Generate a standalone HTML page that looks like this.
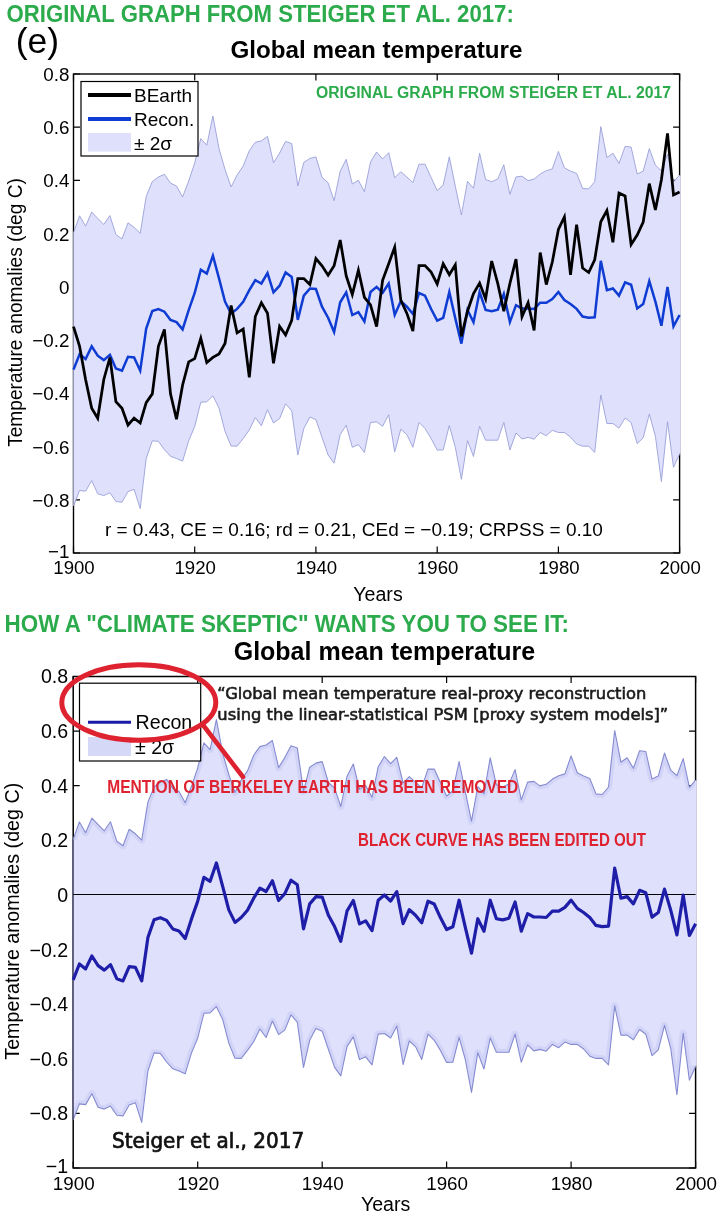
<!DOCTYPE html>
<html><head><meta charset="utf-8"><title>Steiger et al. 2017 graph comparison</title>
<style>html,body{margin:0;padding:0;background:#fff}svg{display:block}text{font-family:"Liberation Sans",sans-serif;fill:#000}.g{fill:#2bab4b;font-weight:bold}.r{fill:#df2230;font-weight:bold}.b{font-weight:bold}</style></head><body>
<svg width="725" height="1219" viewBox="0 0 725 1219">
<rect width="725" height="1219" fill="#fff"/>
<text class="g" x="6.6" y="21.6" font-size="23.2" textLength="507.2" lengthAdjust="spacingAndGlyphs">ORIGINAL GRAPH FROM STEIGER ET AL. 2017:</text>
<text x="15.8" y="52.5" font-size="35.5">(e)</text>
<text class="b" x="230.4" y="57.6" font-size="24.2" textLength="292" lengthAdjust="spacingAndGlyphs">Global mean temperature</text>
<rect x="73.5" y="74.0" width="606.1" height="479.0" fill="#fff" stroke="#000" stroke-width="1.4"/>
<path d="M73.5 74.0h6.5M679.6 74.0h-6.5" stroke="#000" stroke-width="1.2"/>
<path d="M73.5 127.2h6.5M679.6 127.2h-6.5" stroke="#000" stroke-width="1.2"/>
<path d="M73.5 180.4h6.5M679.6 180.4h-6.5" stroke="#000" stroke-width="1.2"/>
<path d="M73.5 233.7h6.5M679.6 233.7h-6.5" stroke="#000" stroke-width="1.2"/>
<path d="M73.5 286.9h6.5M679.6 286.9h-6.5" stroke="#000" stroke-width="1.2"/>
<path d="M73.5 340.1h6.5M679.6 340.1h-6.5" stroke="#000" stroke-width="1.2"/>
<path d="M73.5 393.3h6.5M679.6 393.3h-6.5" stroke="#000" stroke-width="1.2"/>
<path d="M73.5 446.6h6.5M679.6 446.6h-6.5" stroke="#000" stroke-width="1.2"/>
<path d="M73.5 499.8h6.5M679.6 499.8h-6.5" stroke="#000" stroke-width="1.2"/>
<path d="M73.5 553.0h6.5M679.6 553.0h-6.5" stroke="#000" stroke-width="1.2"/>
<path d="M73.5 553.0v-6.5M73.5 74.0v6.5" stroke="#000" stroke-width="1.2"/>
<path d="M194.7 553.0v-6.5M194.7 74.0v6.5" stroke="#000" stroke-width="1.2"/>
<path d="M315.9 553.0v-6.5M315.9 74.0v6.5" stroke="#000" stroke-width="1.2"/>
<path d="M437.2 553.0v-6.5M437.2 74.0v6.5" stroke="#000" stroke-width="1.2"/>
<path d="M558.4 553.0v-6.5M558.4 74.0v6.5" stroke="#000" stroke-width="1.2"/>
<path d="M679.6 553.0v-6.5M679.6 74.0v6.5" stroke="#000" stroke-width="1.2"/>
<polygon points="73.5,232.8 79.6,215.8 85.6,226.2 91.7,212.0 97.7,218.4 103.8,224.4 109.9,215.6 115.9,234.5 122.0,239.0 128.0,222.8 134.1,227.3 140.2,233.4 146.2,196.4 152.3,181.6 158.4,177.0 164.4,174.3 170.5,183.1 176.5,186.0 182.6,197.0 188.7,181.0 194.7,163.0 200.8,138.6 206.8,145.2 212.9,116.0 219.0,148.5 225.0,169.5 231.1,187.0 237.1,175.0 243.2,166.0 249.3,150.7 255.3,142.3 261.4,140.8 267.5,136.4 273.5,162.8 279.6,153.0 285.6,141.4 291.7,143.6 297.8,186.0 303.8,162.4 309.9,158.4 315.9,156.9 322.0,177.3 328.1,182.8 334.1,200.7 340.2,171.2 346.2,159.3 352.3,184.0 358.4,180.3 364.4,191.7 370.5,162.0 376.6,152.0 382.6,159.0 388.7,152.7 394.7,177.8 400.8,171.7 406.9,177.0 412.9,182.5 419.0,164.2 425.0,164.2 431.1,177.4 437.2,190.6 443.2,185.1 449.3,156.9 455.3,186.2 461.4,215.0 467.5,181.4 473.5,188.2 479.6,153.3 485.6,179.5 491.7,181.7 497.8,178.9 503.8,164.7 509.9,194.3 516.0,176.9 522.0,176.2 528.1,180.6 534.1,179.1 540.2,174.0 546.3,170.7 552.3,168.9 558.4,151.5 564.4,167.8 570.5,171.1 576.6,173.4 582.6,188.4 588.7,189.0 594.7,181.7 600.8,126.6 606.9,157.5 612.9,153.2 619.0,163.5 625.1,146.4 631.1,147.1 637.2,174.0 643.2,171.1 649.3,148.6 655.4,165.2 661.4,170.7 667.5,154.0 673.5,182.0 679.6,175.1 679.6,454.0 673.5,467.3 667.5,421.6 661.4,481.6 655.4,436.3 649.3,414.0 643.2,437.8 637.2,443.6 631.1,422.6 625.1,418.0 619.0,428.1 612.9,423.5 606.9,423.5 600.8,395.0 594.7,452.4 588.7,446.2 582.6,446.2 576.6,444.0 570.5,437.0 564.4,432.5 558.4,432.5 552.3,430.3 546.3,435.8 540.2,432.5 534.1,439.2 528.1,437.4 522.0,438.9 516.0,433.0 509.9,450.0 503.8,422.5 497.8,440.2 491.7,440.2 485.6,440.2 479.6,426.3 473.5,456.5 467.5,440.6 461.4,479.3 455.3,447.3 449.3,425.6 443.2,449.9 437.2,450.1 431.1,438.4 425.0,428.5 419.0,422.5 412.9,447.3 406.9,434.7 400.8,429.2 394.7,452.1 388.7,414.8 382.6,426.3 376.6,421.9 370.5,422.5 364.4,452.5 358.4,444.6 352.3,447.3 346.2,425.2 340.2,434.5 334.1,463.2 328.1,455.0 322.0,437.3 315.9,419.7 309.9,417.0 303.8,428.5 297.8,455.0 291.7,410.8 285.6,403.8 279.6,418.6 273.5,423.0 267.5,409.7 261.4,425.8 255.3,417.5 249.3,430.0 243.2,438.4 237.1,446.2 231.1,446.0 225.0,431.3 219.0,408.0 212.9,395.8 206.8,401.8 200.8,402.2 194.7,426.5 188.7,440.8 182.6,461.1 176.5,458.5 170.5,456.3 164.4,449.7 158.4,441.3 152.3,440.8 146.2,458.5 140.2,508.6 134.1,489.4 128.0,491.6 122.0,502.2 115.9,501.5 109.9,492.7 103.8,495.6 97.7,493.8 91.7,480.6 85.6,491.2 79.6,490.5 73.5,506.0" fill="#dee0fc"/>
<polyline points="73.5,232.8 79.6,215.8 85.6,226.2 91.7,212.0 97.7,218.4 103.8,224.4 109.9,215.6 115.9,234.5 122.0,239.0 128.0,222.8 134.1,227.3 140.2,233.4 146.2,196.4 152.3,181.6 158.4,177.0 164.4,174.3 170.5,183.1 176.5,186.0 182.6,197.0 188.7,181.0 194.7,163.0 200.8,138.6 206.8,145.2 212.9,116.0 219.0,148.5 225.0,169.5 231.1,187.0 237.1,175.0 243.2,166.0 249.3,150.7 255.3,142.3 261.4,140.8 267.5,136.4 273.5,162.8 279.6,153.0 285.6,141.4 291.7,143.6 297.8,186.0 303.8,162.4 309.9,158.4 315.9,156.9 322.0,177.3 328.1,182.8 334.1,200.7 340.2,171.2 346.2,159.3 352.3,184.0 358.4,180.3 364.4,191.7 370.5,162.0 376.6,152.0 382.6,159.0 388.7,152.7 394.7,177.8 400.8,171.7 406.9,177.0 412.9,182.5 419.0,164.2 425.0,164.2 431.1,177.4 437.2,190.6 443.2,185.1 449.3,156.9 455.3,186.2 461.4,215.0 467.5,181.4 473.5,188.2 479.6,153.3 485.6,179.5 491.7,181.7 497.8,178.9 503.8,164.7 509.9,194.3 516.0,176.9 522.0,176.2 528.1,180.6 534.1,179.1 540.2,174.0 546.3,170.7 552.3,168.9 558.4,151.5 564.4,167.8 570.5,171.1 576.6,173.4 582.6,188.4 588.7,189.0 594.7,181.7 600.8,126.6 606.9,157.5 612.9,153.2 619.0,163.5 625.1,146.4 631.1,147.1 637.2,174.0 643.2,171.1 649.3,148.6 655.4,165.2 661.4,170.7 667.5,154.0 673.5,182.0 679.6,175.1" fill="none" stroke="#9aa0d8" stroke-width="0.9" stroke-linejoin="round"/>
<polyline points="73.5,506.0 79.6,490.5 85.6,491.2 91.7,480.6 97.7,493.8 103.8,495.6 109.9,492.7 115.9,501.5 122.0,502.2 128.0,491.6 134.1,489.4 140.2,508.6 146.2,458.5 152.3,440.8 158.4,441.3 164.4,449.7 170.5,456.3 176.5,458.5 182.6,461.1 188.7,440.8 194.7,426.5 200.8,402.2 206.8,401.8 212.9,395.8 219.0,408.0 225.0,431.3 231.1,446.0 237.1,446.2 243.2,438.4 249.3,430.0 255.3,417.5 261.4,425.8 267.5,409.7 273.5,423.0 279.6,418.6 285.6,403.8 291.7,410.8 297.8,455.0 303.8,428.5 309.9,417.0 315.9,419.7 322.0,437.3 328.1,455.0 334.1,463.2 340.2,434.5 346.2,425.2 352.3,447.3 358.4,444.6 364.4,452.5 370.5,422.5 376.6,421.9 382.6,426.3 388.7,414.8 394.7,452.1 400.8,429.2 406.9,434.7 412.9,447.3 419.0,422.5 425.0,428.5 431.1,438.4 437.2,450.1 443.2,449.9 449.3,425.6 455.3,447.3 461.4,479.3 467.5,440.6 473.5,456.5 479.6,426.3 485.6,440.2 491.7,440.2 497.8,440.2 503.8,422.5 509.9,450.0 516.0,433.0 522.0,438.9 528.1,437.4 534.1,439.2 540.2,432.5 546.3,435.8 552.3,430.3 558.4,432.5 564.4,432.5 570.5,437.0 576.6,444.0 582.6,446.2 588.7,446.2 594.7,452.4 600.8,395.0 606.9,423.5 612.9,423.5 619.0,428.1 625.1,418.0 631.1,422.6 637.2,443.6 643.2,437.8 649.3,414.0 655.4,436.3 661.4,481.6 667.5,421.6 673.5,467.3 679.6,454.0" fill="none" stroke="#9aa0d8" stroke-width="0.9" stroke-linejoin="round"/>
<path d="M73.5 232.8V506.0" stroke="#8f92b4" stroke-width="1"/>
<rect x="679.0" y="175.7" width="1.6" height="277.7" fill="#dee0fc"/>
<polyline points="73.5,369.6 79.6,354.2 85.6,359.0 91.7,346.4 97.7,355.7 103.8,360.1 109.9,354.8 115.9,368.5 122.0,370.7 128.0,356.8 134.1,357.5 140.2,370.7 146.2,328.5 152.3,311.0 158.4,309.1 164.4,311.7 170.5,320.0 176.5,322.1 182.6,329.4 188.7,310.2 194.7,293.0 200.8,269.8 206.8,273.6 212.9,255.7 219.0,278.3 225.0,301.5 231.1,313.6 237.1,308.9 243.2,301.8 249.3,290.1 255.3,280.2 261.4,283.5 267.5,273.1 273.5,292.3 279.6,285.7 285.6,272.5 291.7,276.9 297.8,319.9 303.8,295.6 309.9,288.6 315.9,289.0 322.0,306.7 328.1,317.7 334.1,332.1 340.2,302.3 346.2,292.3 352.3,315.1 358.4,312.2 364.4,321.6 370.5,292.0 376.6,286.9 382.6,292.8 388.7,283.6 394.7,314.9 400.8,301.2 406.9,306.7 412.9,314.0 419.0,293.0 425.0,295.7 431.1,309.0 437.2,320.6 443.2,317.8 449.3,292.0 455.3,318.4 461.4,343.6 467.5,310.0 473.5,322.2 479.6,292.0 485.6,310.0 491.7,311.2 497.8,309.6 503.8,293.8 509.9,322.1 516.0,305.2 522.0,308.4 528.1,308.4 534.1,308.9 540.2,302.7 546.3,302.7 552.3,299.0 558.4,291.9 564.4,300.0 570.5,304.0 576.6,308.9 582.6,316.6 588.7,317.7 594.7,317.3 600.8,260.8 606.9,290.1 612.9,288.5 619.0,295.6 625.1,282.4 631.1,284.8 637.2,308.5 643.2,304.0 649.3,281.2 655.4,301.7 661.4,325.8 667.5,287.0 673.5,326.3 679.6,315.0" fill="none" stroke="#0f3cd2" stroke-width="2.5" stroke-linejoin="miter" stroke-miterlimit="4.5"/>
<polyline points="73.5,326.6 79.6,346.4 85.6,379.5 91.7,408.2 97.7,418.2 103.8,379.5 109.9,357.5 115.9,401.6 122.0,408.2 128.0,425.0 134.1,418.2 140.2,423.0 146.2,402.7 152.3,393.9 158.4,346.4 164.4,329.4 170.5,393.9 176.5,419.3 182.6,385.0 188.7,361.9 194.7,358.6 200.8,338.3 206.8,362.5 212.9,357.4 219.0,354.0 225.0,343.5 231.1,305.5 237.1,332.8 243.2,329.0 249.3,377.4 255.3,316.5 261.4,302.7 267.5,313.2 273.5,363.3 279.6,326.4 285.6,335.0 291.7,320.4 297.8,278.6 303.8,278.6 309.9,284.6 315.9,258.6 322.0,265.8 328.1,275.3 334.1,265.8 340.2,240.0 346.2,275.8 352.3,294.5 358.4,270.3 364.4,297.3 370.5,305.0 376.6,326.6 382.6,280.3 388.7,263.7 394.7,247.1 400.8,300.1 406.9,313.4 412.9,331.0 419.0,265.5 425.0,265.5 431.1,272.1 437.2,284.0 443.2,263.7 449.3,274.7 455.3,264.8 461.4,336.5 467.5,311.2 473.5,293.5 479.6,283.1 485.6,299.0 491.7,261.0 497.8,283.6 503.8,311.1 509.9,283.5 516.0,259.2 522.0,316.6 528.1,302.7 534.1,330.5 540.2,252.6 546.3,284.6 552.3,262.0 558.4,229.5 564.4,217.0 570.5,274.8 576.6,224.7 582.6,268.1 588.7,272.5 594.7,259.8 600.8,221.8 606.9,210.5 612.9,242.3 619.0,193.1 625.1,196.0 631.1,244.5 637.2,235.0 643.2,222.0 649.3,183.6 655.4,210.0 661.4,179.7 667.5,133.4 673.5,195.0 679.6,192.0" fill="none" stroke="#000" stroke-width="2.75" stroke-linejoin="miter" stroke-miterlimit="4.5"/>
<text x="69.4" y="80.9" font-size="18.8" text-anchor="end">0.8</text>
<text x="69.4" y="134.1" font-size="18.8" text-anchor="end">0.6</text>
<text x="69.4" y="187.3" font-size="18.8" text-anchor="end">0.4</text>
<text x="69.4" y="240.6" font-size="18.8" text-anchor="end">0.2</text>
<text x="69.4" y="293.8" font-size="18.8" text-anchor="end">0</text>
<text x="69.4" y="347.0" font-size="18.8" text-anchor="end">−0.2</text>
<text x="69.4" y="400.2" font-size="18.8" text-anchor="end">−0.4</text>
<text x="69.4" y="453.5" font-size="18.8" text-anchor="end">−0.6</text>
<text x="69.4" y="506.7" font-size="18.8" text-anchor="end">−0.8</text>
<text x="69.4" y="558.0" font-size="18.8" text-anchor="end">−1</text>
<text x="74.0" y="574.2" font-size="18.6" text-anchor="middle">1900</text>
<text x="195.2" y="574.2" font-size="18.6" text-anchor="middle">1920</text>
<text x="316.4" y="574.2" font-size="18.6" text-anchor="middle">1940</text>
<text x="437.7" y="574.2" font-size="18.6" text-anchor="middle">1960</text>
<text x="558.9" y="574.2" font-size="18.6" text-anchor="middle">1980</text>
<text x="680.1" y="574.2" font-size="18.6" text-anchor="middle">2000</text>
<text x="378" y="601.4" font-size="19.6" text-anchor="middle">Years</text>
<text transform="translate(21.9 446.8) rotate(-90)" font-size="19.6" textLength="268.6" lengthAdjust="spacingAndGlyphs">Temperature anomalies (deg C)</text>
<rect x="81" y="81.5" width="117" height="74.5" fill="#fff" stroke="#000" stroke-width="1.2"/>
<path d="M88 95h43" stroke="#000" stroke-width="4"/>
<path d="M88 119h43" stroke="#0f3cd2" stroke-width="4"/>
<rect x="88" y="133" width="43" height="18.6" fill="#dee0fc"/>
<text x="134" y="101.5" font-size="19">BEarth</text>
<text x="134" y="125.7" font-size="19">Recon.</text>
<text x="134" y="149.5" font-size="19">± 2σ</text>
<text class="g" x="316" y="97.5" font-size="16" textLength="355" lengthAdjust="spacingAndGlyphs">ORIGINAL GRAPH FROM STEIGER ET AL. 2017</text>
<text x="104.9" y="536" font-size="19" textLength="498" lengthAdjust="spacingAndGlyphs">r = 0.43, CE = 0.16; rd = 0.21, CEd = −0.19; CRPSS = 0.10</text>
<text class="g" x="4.6" y="631.6" font-size="23.2" textLength="564.4" lengthAdjust="spacingAndGlyphs">HOW A "CLIMATE SKEPTIC" WANTS YOU TO SEE IT:</text>
<text class="b" x="233.7" y="660" font-size="25" textLength="301.5" lengthAdjust="spacingAndGlyphs">Global mean temperature</text>
<rect x="73.2" y="676.5" width="622.4" height="491.5" fill="#fff" stroke="#000" stroke-width="1.5"/>
<path d="M73.2 676.5h6.5M695.6 676.5h-6.5" stroke="#000" stroke-width="1.2"/>
<path d="M73.2 731.1h6.5M695.6 731.1h-6.5" stroke="#000" stroke-width="1.2"/>
<path d="M73.2 785.7h6.5M695.6 785.7h-6.5" stroke="#000" stroke-width="1.2"/>
<path d="M73.2 840.3h6.5M695.6 840.3h-6.5" stroke="#000" stroke-width="1.2"/>
<path d="M73.2 894.9h6.5M695.6 894.9h-6.5" stroke="#000" stroke-width="1.2"/>
<path d="M73.2 949.6h6.5M695.6 949.6h-6.5" stroke="#000" stroke-width="1.2"/>
<path d="M73.2 1004.2h6.5M695.6 1004.2h-6.5" stroke="#000" stroke-width="1.2"/>
<path d="M73.2 1058.8h6.5M695.6 1058.8h-6.5" stroke="#000" stroke-width="1.2"/>
<path d="M73.2 1113.4h6.5M695.6 1113.4h-6.5" stroke="#000" stroke-width="1.2"/>
<path d="M73.2 1168.0h6.5M695.6 1168.0h-6.5" stroke="#000" stroke-width="1.2"/>
<path d="M73.2 1168.0v-6.5M73.2 676.5v6.5" stroke="#000" stroke-width="1.2"/>
<path d="M197.7 1168.0v-6.5M197.7 676.5v6.5" stroke="#000" stroke-width="1.2"/>
<path d="M322.2 1168.0v-6.5M322.2 676.5v6.5" stroke="#000" stroke-width="1.2"/>
<path d="M446.6 1168.0v-6.5M446.6 676.5v6.5" stroke="#000" stroke-width="1.2"/>
<path d="M571.1 1168.0v-6.5M571.1 676.5v6.5" stroke="#000" stroke-width="1.2"/>
<path d="M695.6 1168.0v-6.5M695.6 676.5v6.5" stroke="#000" stroke-width="1.2"/>
<clipPath id="bc"><polygon points="73.2,839.4 79.4,822.0 85.6,832.7 91.9,818.1 98.1,824.7 104.3,830.8 110.5,821.8 116.8,841.2 123.0,845.8 129.2,829.2 135.4,833.8 141.7,840.1 147.9,802.1 154.1,786.9 160.3,782.2 166.6,779.4 172.8,788.4 179.0,791.4 185.2,802.7 191.5,786.3 197.7,767.8 203.9,742.8 210.1,749.6 216.4,719.6 222.6,752.9 228.8,774.5 235.0,792.4 241.2,780.1 247.5,770.9 253.7,755.2 259.9,746.6 266.1,745.0 272.4,740.5 278.6,767.6 284.8,757.6 291.0,745.7 297.3,747.9 303.5,791.4 309.7,767.2 315.9,763.1 322.2,761.6 328.4,782.5 334.6,788.1 340.8,806.5 347.1,776.2 353.3,764.0 359.5,789.4 365.7,785.6 372.0,797.3 378.2,766.8 384.4,756.5 390.6,763.7 396.8,757.3 403.1,783.0 409.3,776.7 415.5,782.2 421.7,787.8 428.0,769.1 434.2,769.1 440.4,782.6 446.6,796.1 452.9,790.5 459.1,761.6 465.3,791.6 471.5,821.2 477.8,786.7 484.0,793.7 490.2,757.9 496.4,784.8 502.7,787.0 508.9,784.1 515.1,769.6 521.3,799.9 527.6,782.1 533.8,781.4 540.0,785.9 546.2,784.3 552.4,779.1 558.7,775.7 564.9,773.9 571.1,756.0 577.3,772.7 583.6,776.1 589.8,778.5 596.0,793.9 602.2,794.5 608.5,787.0 614.7,730.5 620.9,762.2 627.1,757.8 633.4,768.3 639.6,750.8 645.8,751.5 652.0,779.1 658.3,776.1 664.5,753.0 670.7,770.1 676.9,775.7 683.2,758.6 689.4,787.3 695.6,780.2 695.6,1066.4 689.4,1080.1 683.2,1033.2 676.9,1094.7 670.7,1048.3 664.5,1025.4 658.3,1049.8 652.0,1055.7 645.8,1034.2 639.6,1029.5 633.4,1039.8 627.1,1035.1 620.9,1035.1 614.7,1005.9 608.5,1064.8 602.2,1058.4 596.0,1058.4 589.8,1056.2 583.6,1049.0 577.3,1044.4 571.1,1044.4 564.9,1042.1 558.7,1047.7 552.4,1044.4 546.2,1051.2 540.0,1049.4 533.8,1050.9 527.6,1044.9 521.3,1062.3 515.1,1034.1 508.9,1052.3 502.7,1052.3 496.4,1052.3 490.2,1038.0 484.0,1069.0 477.8,1052.7 471.5,1092.4 465.3,1059.5 459.1,1037.3 452.9,1062.2 446.6,1062.4 440.4,1050.4 434.2,1040.3 428.0,1034.1 421.7,1059.5 415.5,1046.6 409.3,1041.0 403.1,1064.5 396.8,1026.2 390.6,1038.0 384.4,1033.5 378.2,1034.1 372.0,1064.9 365.7,1056.8 359.5,1059.5 353.3,1036.9 347.1,1046.4 340.8,1075.9 334.6,1067.4 328.4,1049.3 322.2,1031.2 315.9,1028.5 309.7,1040.3 303.5,1067.4 297.3,1022.1 291.0,1014.9 284.8,1030.1 278.6,1034.6 272.4,1021.0 266.1,1037.5 259.9,1029.0 253.7,1041.8 247.5,1050.4 241.2,1058.4 235.0,1058.2 228.8,1043.1 222.6,1019.2 216.4,1006.7 210.1,1012.9 203.9,1013.3 197.7,1038.2 191.5,1052.9 185.2,1073.7 179.0,1071.0 172.8,1068.8 166.6,1062.0 160.3,1053.4 154.1,1052.9 147.9,1071.0 141.7,1122.4 135.4,1102.7 129.2,1105.0 123.0,1115.9 116.8,1115.2 110.5,1106.1 104.3,1109.1 98.1,1107.3 91.9,1093.7 85.6,1104.6 79.4,1103.9 73.2,1119.8"/></clipPath>
<polygon points="73.2,839.4 79.4,822.0 85.6,832.7 91.9,818.1 98.1,824.7 104.3,830.8 110.5,821.8 116.8,841.2 123.0,845.8 129.2,829.2 135.4,833.8 141.7,840.1 147.9,802.1 154.1,786.9 160.3,782.2 166.6,779.4 172.8,788.4 179.0,791.4 185.2,802.7 191.5,786.3 197.7,767.8 203.9,742.8 210.1,749.6 216.4,719.6 222.6,752.9 228.8,774.5 235.0,792.4 241.2,780.1 247.5,770.9 253.7,755.2 259.9,746.6 266.1,745.0 272.4,740.5 278.6,767.6 284.8,757.6 291.0,745.7 297.3,747.9 303.5,791.4 309.7,767.2 315.9,763.1 322.2,761.6 328.4,782.5 334.6,788.1 340.8,806.5 347.1,776.2 353.3,764.0 359.5,789.4 365.7,785.6 372.0,797.3 378.2,766.8 384.4,756.5 390.6,763.7 396.8,757.3 403.1,783.0 409.3,776.7 415.5,782.2 421.7,787.8 428.0,769.1 434.2,769.1 440.4,782.6 446.6,796.1 452.9,790.5 459.1,761.6 465.3,791.6 471.5,821.2 477.8,786.7 484.0,793.7 490.2,757.9 496.4,784.8 502.7,787.0 508.9,784.1 515.1,769.6 521.3,799.9 527.6,782.1 533.8,781.4 540.0,785.9 546.2,784.3 552.4,779.1 558.7,775.7 564.9,773.9 571.1,756.0 577.3,772.7 583.6,776.1 589.8,778.5 596.0,793.9 602.2,794.5 608.5,787.0 614.7,730.5 620.9,762.2 627.1,757.8 633.4,768.3 639.6,750.8 645.8,751.5 652.0,779.1 658.3,776.1 664.5,753.0 670.7,770.1 676.9,775.7 683.2,758.6 689.4,787.3 695.6,780.2 695.6,1066.4 689.4,1080.1 683.2,1033.2 676.9,1094.7 670.7,1048.3 664.5,1025.4 658.3,1049.8 652.0,1055.7 645.8,1034.2 639.6,1029.5 633.4,1039.8 627.1,1035.1 620.9,1035.1 614.7,1005.9 608.5,1064.8 602.2,1058.4 596.0,1058.4 589.8,1056.2 583.6,1049.0 577.3,1044.4 571.1,1044.4 564.9,1042.1 558.7,1047.7 552.4,1044.4 546.2,1051.2 540.0,1049.4 533.8,1050.9 527.6,1044.9 521.3,1062.3 515.1,1034.1 508.9,1052.3 502.7,1052.3 496.4,1052.3 490.2,1038.0 484.0,1069.0 477.8,1052.7 471.5,1092.4 465.3,1059.5 459.1,1037.3 452.9,1062.2 446.6,1062.4 440.4,1050.4 434.2,1040.3 428.0,1034.1 421.7,1059.5 415.5,1046.6 409.3,1041.0 403.1,1064.5 396.8,1026.2 390.6,1038.0 384.4,1033.5 378.2,1034.1 372.0,1064.9 365.7,1056.8 359.5,1059.5 353.3,1036.9 347.1,1046.4 340.8,1075.9 334.6,1067.4 328.4,1049.3 322.2,1031.2 315.9,1028.5 309.7,1040.3 303.5,1067.4 297.3,1022.1 291.0,1014.9 284.8,1030.1 278.6,1034.6 272.4,1021.0 266.1,1037.5 259.9,1029.0 253.7,1041.8 247.5,1050.4 241.2,1058.4 235.0,1058.2 228.8,1043.1 222.6,1019.2 216.4,1006.7 210.1,1012.9 203.9,1013.3 197.7,1038.2 191.5,1052.9 185.2,1073.7 179.0,1071.0 172.8,1068.8 166.6,1062.0 160.3,1053.4 154.1,1052.9 147.9,1071.0 141.7,1122.4 135.4,1102.7 129.2,1105.0 123.0,1115.9 116.8,1115.2 110.5,1106.1 104.3,1109.1 98.1,1107.3 91.9,1093.7 85.6,1104.6 79.4,1103.9 73.2,1119.8" fill="#dee0fc"/>
<g clip-path="url(#bc)" fill="none" stroke="#bfc1f0" stroke-opacity="0.38" stroke-width="7" stroke-linejoin="round"><polyline points="73.2,839.4 79.4,822.0 85.6,832.7 91.9,818.1 98.1,824.7 104.3,830.8 110.5,821.8 116.8,841.2 123.0,845.8 129.2,829.2 135.4,833.8 141.7,840.1 147.9,802.1 154.1,786.9 160.3,782.2 166.6,779.4 172.8,788.4 179.0,791.4 185.2,802.7 191.5,786.3 197.7,767.8 203.9,742.8 210.1,749.6 216.4,719.6 222.6,752.9 228.8,774.5 235.0,792.4 241.2,780.1 247.5,770.9 253.7,755.2 259.9,746.6 266.1,745.0 272.4,740.5 278.6,767.6 284.8,757.6 291.0,745.7 297.3,747.9 303.5,791.4 309.7,767.2 315.9,763.1 322.2,761.6 328.4,782.5 334.6,788.1 340.8,806.5 347.1,776.2 353.3,764.0 359.5,789.4 365.7,785.6 372.0,797.3 378.2,766.8 384.4,756.5 390.6,763.7 396.8,757.3 403.1,783.0 409.3,776.7 415.5,782.2 421.7,787.8 428.0,769.1 434.2,769.1 440.4,782.6 446.6,796.1 452.9,790.5 459.1,761.6 465.3,791.6 471.5,821.2 477.8,786.7 484.0,793.7 490.2,757.9 496.4,784.8 502.7,787.0 508.9,784.1 515.1,769.6 521.3,799.9 527.6,782.1 533.8,781.4 540.0,785.9 546.2,784.3 552.4,779.1 558.7,775.7 564.9,773.9 571.1,756.0 577.3,772.7 583.6,776.1 589.8,778.5 596.0,793.9 602.2,794.5 608.5,787.0 614.7,730.5 620.9,762.2 627.1,757.8 633.4,768.3 639.6,750.8 645.8,751.5 652.0,779.1 658.3,776.1 664.5,753.0 670.7,770.1 676.9,775.7 683.2,758.6 689.4,787.3 695.6,780.2"/><polyline points="73.2,1119.8 79.4,1103.9 85.6,1104.6 91.9,1093.7 98.1,1107.3 104.3,1109.1 110.5,1106.1 116.8,1115.2 123.0,1115.9 129.2,1105.0 135.4,1102.7 141.7,1122.4 147.9,1071.0 154.1,1052.9 160.3,1053.4 166.6,1062.0 172.8,1068.8 179.0,1071.0 185.2,1073.7 191.5,1052.9 197.7,1038.2 203.9,1013.3 210.1,1012.9 216.4,1006.7 222.6,1019.2 228.8,1043.1 235.0,1058.2 241.2,1058.4 247.5,1050.4 253.7,1041.8 259.9,1029.0 266.1,1037.5 272.4,1021.0 278.6,1034.6 284.8,1030.1 291.0,1014.9 297.3,1022.1 303.5,1067.4 309.7,1040.3 315.9,1028.5 322.2,1031.2 328.4,1049.3 334.6,1067.4 340.8,1075.9 347.1,1046.4 353.3,1036.9 359.5,1059.5 365.7,1056.8 372.0,1064.9 378.2,1034.1 384.4,1033.5 390.6,1038.0 396.8,1026.2 403.1,1064.5 409.3,1041.0 415.5,1046.6 421.7,1059.5 428.0,1034.1 434.2,1040.3 440.4,1050.4 446.6,1062.4 452.9,1062.2 459.1,1037.3 465.3,1059.5 471.5,1092.4 477.8,1052.7 484.0,1069.0 490.2,1038.0 496.4,1052.3 502.7,1052.3 508.9,1052.3 515.1,1034.1 521.3,1062.3 527.6,1044.9 533.8,1050.9 540.0,1049.4 546.2,1051.2 552.4,1044.4 558.7,1047.7 564.9,1042.1 571.1,1044.4 577.3,1044.4 583.6,1049.0 589.8,1056.2 596.0,1058.4 602.2,1058.4 608.5,1064.8 614.7,1005.9 620.9,1035.1 627.1,1035.1 633.4,1039.8 639.6,1029.5 645.8,1034.2 652.0,1055.7 658.3,1049.8 664.5,1025.4 670.7,1048.3 676.9,1094.7 683.2,1033.2 689.4,1080.1 695.6,1066.4"/></g>
<polyline points="73.2,839.4 79.4,822.0 85.6,832.7 91.9,818.1 98.1,824.7 104.3,830.8 110.5,821.8 116.8,841.2 123.0,845.8 129.2,829.2 135.4,833.8 141.7,840.1 147.9,802.1 154.1,786.9 160.3,782.2 166.6,779.4 172.8,788.4 179.0,791.4 185.2,802.7 191.5,786.3 197.7,767.8 203.9,742.8 210.1,749.6 216.4,719.6 222.6,752.9 228.8,774.5 235.0,792.4 241.2,780.1 247.5,770.9 253.7,755.2 259.9,746.6 266.1,745.0 272.4,740.5 278.6,767.6 284.8,757.6 291.0,745.7 297.3,747.9 303.5,791.4 309.7,767.2 315.9,763.1 322.2,761.6 328.4,782.5 334.6,788.1 340.8,806.5 347.1,776.2 353.3,764.0 359.5,789.4 365.7,785.6 372.0,797.3 378.2,766.8 384.4,756.5 390.6,763.7 396.8,757.3 403.1,783.0 409.3,776.7 415.5,782.2 421.7,787.8 428.0,769.1 434.2,769.1 440.4,782.6 446.6,796.1 452.9,790.5 459.1,761.6 465.3,791.6 471.5,821.2 477.8,786.7 484.0,793.7 490.2,757.9 496.4,784.8 502.7,787.0 508.9,784.1 515.1,769.6 521.3,799.9 527.6,782.1 533.8,781.4 540.0,785.9 546.2,784.3 552.4,779.1 558.7,775.7 564.9,773.9 571.1,756.0 577.3,772.7 583.6,776.1 589.8,778.5 596.0,793.9 602.2,794.5 608.5,787.0 614.7,730.5 620.9,762.2 627.1,757.8 633.4,768.3 639.6,750.8 645.8,751.5 652.0,779.1 658.3,776.1 664.5,753.0 670.7,770.1 676.9,775.7 683.2,758.6 689.4,787.3 695.6,780.2" fill="none" stroke="#858bd0" stroke-width="1.1" stroke-linejoin="round"/>
<polyline points="73.2,1119.8 79.4,1103.9 85.6,1104.6 91.9,1093.7 98.1,1107.3 104.3,1109.1 110.5,1106.1 116.8,1115.2 123.0,1115.9 129.2,1105.0 135.4,1102.7 141.7,1122.4 147.9,1071.0 154.1,1052.9 160.3,1053.4 166.6,1062.0 172.8,1068.8 179.0,1071.0 185.2,1073.7 191.5,1052.9 197.7,1038.2 203.9,1013.3 210.1,1012.9 216.4,1006.7 222.6,1019.2 228.8,1043.1 235.0,1058.2 241.2,1058.4 247.5,1050.4 253.7,1041.8 259.9,1029.0 266.1,1037.5 272.4,1021.0 278.6,1034.6 284.8,1030.1 291.0,1014.9 297.3,1022.1 303.5,1067.4 309.7,1040.3 315.9,1028.5 322.2,1031.2 328.4,1049.3 334.6,1067.4 340.8,1075.9 347.1,1046.4 353.3,1036.9 359.5,1059.5 365.7,1056.8 372.0,1064.9 378.2,1034.1 384.4,1033.5 390.6,1038.0 396.8,1026.2 403.1,1064.5 409.3,1041.0 415.5,1046.6 421.7,1059.5 428.0,1034.1 434.2,1040.3 440.4,1050.4 446.6,1062.4 452.9,1062.2 459.1,1037.3 465.3,1059.5 471.5,1092.4 477.8,1052.7 484.0,1069.0 490.2,1038.0 496.4,1052.3 502.7,1052.3 508.9,1052.3 515.1,1034.1 521.3,1062.3 527.6,1044.9 533.8,1050.9 540.0,1049.4 546.2,1051.2 552.4,1044.4 558.7,1047.7 564.9,1042.1 571.1,1044.4 577.3,1044.4 583.6,1049.0 589.8,1056.2 596.0,1058.4 602.2,1058.4 608.5,1064.8 614.7,1005.9 620.9,1035.1 627.1,1035.1 633.4,1039.8 639.6,1029.5 645.8,1034.2 652.0,1055.7 658.3,1049.8 664.5,1025.4 670.7,1048.3 676.9,1094.7 683.2,1033.2 689.4,1080.1 695.6,1066.4" fill="none" stroke="#858bd0" stroke-width="1.1" stroke-linejoin="round"/>
<path d="M73.2 839.4V1119.8" stroke="#3c3c70" stroke-width="1"/>
<rect x="695.0" y="780.8" width="1.7" height="285.0" fill="#dee0fc"/>
<path d="M73.2 894.5H695.6" stroke="#000" stroke-width="1"/>
<polyline points="73.2,979.8 79.4,964.0 85.6,968.9 91.9,956.0 98.1,965.6 104.3,970.1 110.5,964.6 116.8,978.7 123.0,980.9 129.2,966.7 135.4,967.4 141.7,980.9 147.9,937.6 154.1,919.7 160.3,917.7 166.6,920.4 172.8,928.9 179.0,931.1 185.2,938.6 191.5,918.9 197.7,901.2 203.9,877.4 210.1,881.3 216.4,862.9 222.6,886.1 228.8,909.9 235.0,922.4 241.2,917.5 247.5,910.2 253.7,898.2 259.9,888.1 266.1,891.5 272.4,880.8 278.6,900.5 284.8,893.7 291.0,880.2 297.3,884.7 303.5,928.8 309.7,903.9 315.9,896.7 322.2,897.1 328.4,915.3 334.6,926.6 340.8,941.3 347.1,910.8 353.3,900.5 359.5,923.9 365.7,920.9 372.0,930.6 378.2,900.2 384.4,895.0 390.6,901.0 396.8,891.6 403.1,923.7 409.3,909.6 415.5,915.3 421.7,922.8 428.0,901.2 434.2,904.0 440.4,917.6 446.6,929.5 452.9,926.7 459.1,900.2 465.3,927.3 471.5,953.1 477.8,918.7 484.0,931.2 490.2,900.2 496.4,918.7 502.7,919.9 508.9,918.2 515.1,902.0 521.3,931.1 527.6,913.7 533.8,917.0 540.0,917.0 546.2,917.5 552.4,911.2 558.7,911.2 564.9,907.4 571.1,900.1 577.3,908.4 583.6,912.5 589.8,917.5 596.0,925.4 602.2,926.6 608.5,926.1 614.7,868.2 620.9,898.2 627.1,896.6 633.4,903.9 639.6,890.3 645.8,892.8 652.0,917.1 658.3,912.5 664.5,889.1 670.7,910.1 676.9,934.9 683.2,895.1 689.4,935.4 695.6,923.8" fill="none" stroke="#1e1ea8" stroke-width="3.2" stroke-linejoin="round"/>
<text x="68.2" y="683.4" font-size="19.6" text-anchor="end">0.8</text>
<text x="68.2" y="738.0" font-size="19.6" text-anchor="end">0.6</text>
<text x="68.2" y="792.6" font-size="19.6" text-anchor="end">0.4</text>
<text x="68.2" y="847.2" font-size="19.6" text-anchor="end">0.2</text>
<text x="68.2" y="901.8" font-size="19.6" text-anchor="end">0</text>
<text x="68.2" y="956.5" font-size="19.6" text-anchor="end">−0.2</text>
<text x="68.2" y="1011.1" font-size="19.6" text-anchor="end">−0.4</text>
<text x="68.2" y="1065.7" font-size="19.6" text-anchor="end">−0.6</text>
<text x="68.2" y="1120.3" font-size="19.6" text-anchor="end">−0.8</text>
<text x="68.2" y="1173.0" font-size="19.6" text-anchor="end">−1</text>
<text x="73.7" y="1190" font-size="18.8" text-anchor="middle">1900</text>
<text x="198.2" y="1190" font-size="18.8" text-anchor="middle">1920</text>
<text x="322.7" y="1190" font-size="18.8" text-anchor="middle">1940</text>
<text x="447.1" y="1190" font-size="18.8" text-anchor="middle">1960</text>
<text x="571.6" y="1190" font-size="18.8" text-anchor="middle">1980</text>
<text x="696.1" y="1190" font-size="18.8" text-anchor="middle">2000</text>
<text x="385.6" y="1210.9" font-size="19.6" text-anchor="middle">Years</text>
<text transform="translate(19.0 1059.7) rotate(-90)" font-size="20.2" textLength="277" lengthAdjust="spacingAndGlyphs">Temperature anomalies (deg C)</text>
<rect x="79.5" y="683.2" width="121.2" height="77.8" fill="#fff" stroke="#000" stroke-width="1.2"/>
<path d="M88 722.2h43" stroke="#1a1aa6" stroke-width="3"/>
<rect x="88" y="737" width="43" height="19" fill="#d6d8f8"/>
<text x="135.6" y="729" font-size="19.6">Recon</text>
<text x="135" y="753.6" font-size="19.6">± 2σ</text>
<text x="217.3" y="698.5" font-size="16.3" textLength="429" lengthAdjust="spacingAndGlyphs" style="fill:#1a1a1a;stroke:#1a1a1a;stroke-width:.6;font-family:&quot;DejaVu Sans&quot;,&quot;Liberation Sans&quot;,sans-serif">“Global mean temperature real-proxy reconstruction</text>
<text x="217.3" y="720" font-size="16.3" textLength="451" lengthAdjust="spacingAndGlyphs" style="fill:#1a1a1a;stroke:#1a1a1a;stroke-width:.6;font-family:&quot;DejaVu Sans&quot;,&quot;Liberation Sans&quot;,sans-serif">using the linear-statistical PSM [proxy system models]”</text>
<text class="r" x="107.3" y="792.7" font-size="17.8" textLength="411" lengthAdjust="spacingAndGlyphs">MENTION OF BERKELEY EARTH HAS BEEN REMOVED</text>
<text class="r" x="358" y="845.7" font-size="17.8" textLength="288" lengthAdjust="spacingAndGlyphs">BLACK CURVE HAS BEEN EDITED OUT</text>
<text x="112.1" y="1147.9" font-size="20.5" textLength="192" lengthAdjust="spacingAndGlyphs" style="fill:#111;stroke:#111;stroke-width:.7;font-family:&quot;DejaVu Sans&quot;,&quot;Liberation Sans&quot;,sans-serif">Steiger et al., 2017</text>
<ellipse cx="138.8" cy="702.5" rx="77" ry="37.8" fill="none" stroke="#df2230" stroke-width="5"/>
<path d="M203 725L243 777" stroke="#df2230" stroke-width="4.6" stroke-linecap="round"/>
</svg></body></html>
